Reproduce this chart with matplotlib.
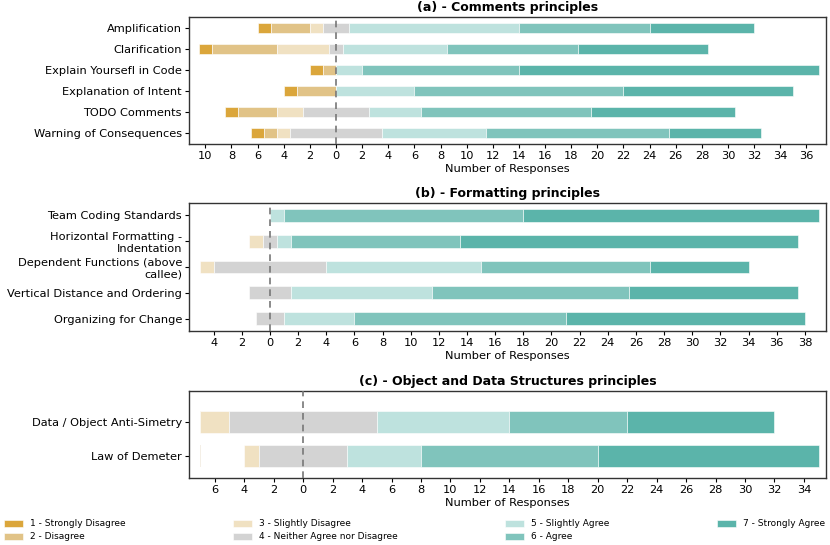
import matplotlib.pyplot as plt
import numpy as np

scale_names = [
    "1 - Strongly Disagree",
    "2 - Disagree",
    "3 - Slightly Disagree",
    "4 - Neither Agree nor Disagree",
    "5 - Slightly Agree",
    "6 - Agree",
    "7 - Strongly Agree",
]
scale_colors = ["#dba63b", "#e1c387", "#f0e1c2", "#d3d3d3", "#bee2de", "#80c4bc", "#5bb4aa"]

# counts per answer, columns follow scale_names
comments_labels = ["Amplification", "Clarification", "Explain Yoursefl in Code",
                   "Explanation of Intent", "TODO Comments", "Warning of Consequences"]
comments_counts = [
    [1, 3, 1, 2, 13, 10, 8],
    [1, 5, 4, 1, 8, 10, 10],
    [1, 1, 0, 0, 2, 12, 23],
    [1, 3, 0, 0, 6, 16, 13],
    [1, 3, 2, 5, 4, 13, 11],
    [1, 1, 1, 7, 8, 14, 7],
]

formatting_labels = ["Team Coding Standards", "Horizontal Formatting -\nIndentation",
                     "Dependent Functions (above\ncallee)", "Vertical Distance and Ordering",
                     "Organizing for Change"]
formatting_counts = [
    [0, 0, 0, 0, 1, 17, 21],
    [0, 0, 1, 1, 1, 12, 24],
    [0, 0, 1, 8, 11, 12, 7],
    [0, 0, 0, 3, 10, 14, 12],
    [0, 0, 0, 2, 5, 15, 17],
]

objects_labels = ["Data / Object Anti-Simetry", "Law of Demeter"]
objects_counts = [
    [0, 0, 2, 10, 9, 8, 10],
    [0, 0, 1, 6, 5, 12, 15],
]

plt.rcParams['font.family'] = 'DejaVu Sans'
FS = 8.2


def likert(ax, labels, counts, title, bar_h=0.5, ylim=None):
    counts = np.array(counts, dtype=float)
    lefts = counts[:, :3].sum(axis=1) + counts[:, 3] / 2
    rights = counts[:, 4:].sum(axis=1) + counts[:, 3] / 2
    y = np.arange(len(labels))

    # faint start mark of the (white) padding every row gets
    ax.barh(y, 0.04, left=-lefts.max(), height=bar_h, color="#f4efe6", linewidth=0)
    start = -lefts
    for j in range(counts.shape[1]):
        ax.barh(y, counts[:, j], left=start, height=bar_h, color=scale_colors[j],
                edgecolor="white", linewidth=0.4, label=scale_names[j])
        start = start + counts[:, j]

    ax.axvline(0, color="#777777", linestyle="--", linewidth=1.2, dashes=(4, 3), zorder=3)
    ax.set_yticks(y)
    ax.set_yticklabels(labels, fontsize=FS)
    if ylim is not None:
        ax.set_ylim(*ylim)
    else:
        ax.invert_yaxis()

    lo = -lefts.max() - 0.75
    hi = rights.max() + 0.5
    ax.set_xlim(lo, hi)
    ticks = np.arange(-2 * int(lefts.max() // 2), hi, 2)
    ax.set_xticks(ticks)
    ax.set_xticklabels([str(int(abs(t))) for t in ticks], fontsize=FS)
    ax.set_xlabel("Number of Responses", fontsize=FS, labelpad=2)
    ax.set_title(title, fontsize=9, fontweight="bold", pad=4)
    ax.tick_params(length=3, width=0.8, pad=2)
    for s in ax.spines.values():
        s.set_color("#333333")
        s.set_linewidth(1.0)


fig = plt.figure(figsize=(8.3, 5.45), dpi=100)
ax1 = fig.add_axes([0.2277, 0.7358, 0.7675, 0.233])
ax2 = fig.add_axes([0.2277, 0.3927, 0.7675, 0.2349])
ax3 = fig.add_axes([0.2277, 0.1229, 0.7675, 0.1596])

likert(ax1, comments_labels, comments_counts, "(a) - Comments principles")
likert(ax2, formatting_labels, formatting_counts, "(b) - Formatting principles")
likert(ax3, objects_labels, objects_counts, "(c) - Object and Data Structures principles",
       bar_h=0.65, ylim=(1.65, -0.91))

handles, names = ax1.get_legend_handles_labels()
fig.legend(handles, names, loc="lower left", bbox_to_anchor=(0, 0), ncol=4,
           frameon=False, fontsize=6.5, columnspacing=11.9, handlelength=2.1,
           handleheight=0.8, handletextpad=0.8, labelspacing=0.45, borderaxespad=0)

plt.savefig("out.png", dpi=100)
